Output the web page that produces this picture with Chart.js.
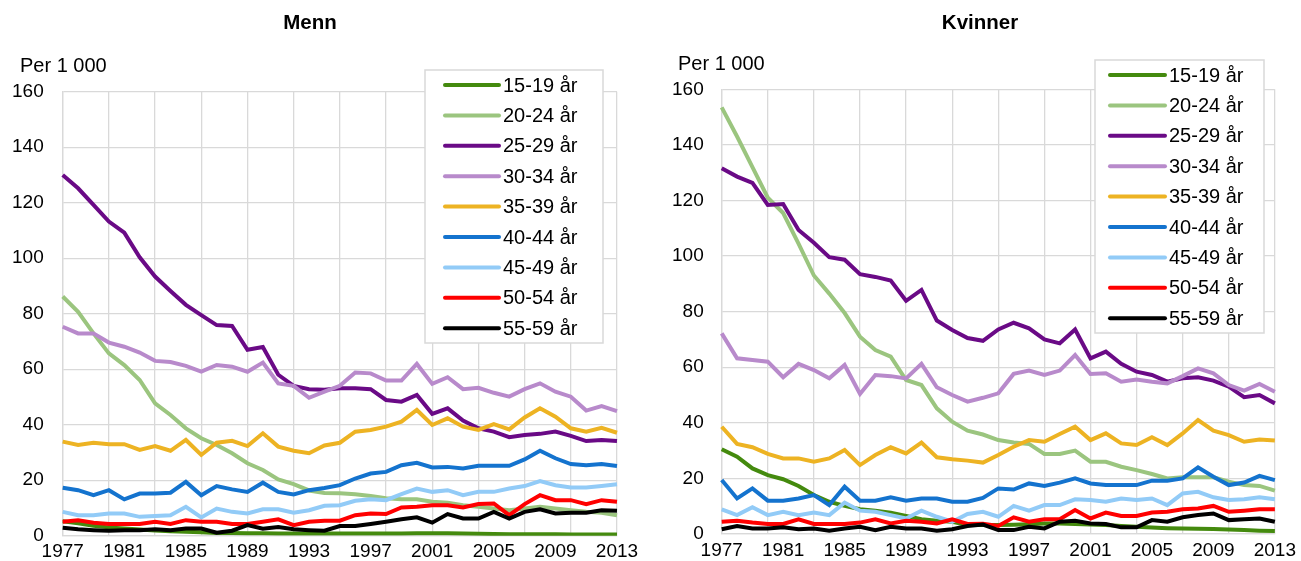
<!DOCTYPE html>
<html>
<head>
<meta charset="utf-8">
<script src="https://cdn.jsdelivr.net/npm/chart.js@4.4.1/dist/chart.umd.min.js"></script>
<style>
html,body{margin:0;padding:0;background:#fff;width:1301px;height:561px;overflow:hidden;}
#c1{position:absolute;left:0;top:0;}
#c2{position:absolute;left:650px;top:0;}
</style>
</head>
<body>
<canvas id="c1" width="650" height="561"></canvas>
<canvas id="c2" width="651" height="561"></canvas>
<script>
const years = [];
for (let y = 1977; y <= 2013; y++) years.push(String(y));
const seriesLabels = ['15-19 år','20-24 år','25-29 år','30-34 år','35-39 år','40-44 år','45-49 år','50-54 år','55-59 år'];
const seriesColors = ['#448A0E','#9BC57F','#6A0A86','#B88ACB','#EDB323','#1473CE','#92CBF7','#FF0000','#000000'];

// Menn
const m15 = [5.2,4.5,3.6,3.0,2.6,2.2,1.9,1.6,1.4,1.2,1.0,1.0,0.9,0.9,0.8,0.8,0.8,0.8,0.8,0.8,0.8,0.8,0.8,0.9,0.9,0.9,0.8,0.7,0.6,0.5,0.5,0.5,0.5,0.4,0.4,0.4,0.4];
const m20 = [86.2,80.7,72.9,65.7,61.5,56.1,47.7,43.5,38.7,35.1,32.7,29.7,26.1,23.7,20.3,18.6,16.3,15.4,15.3,14.9,14.3,13.5,13.1,13.1,12.2,11.9,11.0,10.4,9.8,9.2,9.8,10.4,9.8,9.2,8.6,8.3,7.4];
const m25 = [130,125.2,119.2,113.2,109.2,100.3,93.4,88.2,83.2,79.5,75.9,75.6,67,68,58,54,52.8,52.6,53.1,53.1,52.8,48.9,48.3,50.7,43.9,45.9,41.5,38.7,37.5,35.5,36.3,36.7,37.5,36,34.1,34.5,34.1];
const m30 = [75.3,72.9,72.9,69.6,68.1,66,63,62.6,61.2,59.1,61.5,60.9,59.1,62.4,54.9,54,49.7,51.9,54,58.8,58.5,55.9,55.9,61.9,54.7,57.1,52.8,53.3,51.5,50.1,52.8,54.9,51.9,50.1,45.1,46.7,44.9];
const m35 = [33.9,32.7,33.5,33,33,30.9,32.3,30.6,34.5,29.1,33.5,34.2,32.3,36.9,32.1,30.6,29.7,32.5,33.5,37.5,38.1,39.3,41.1,45.3,39.9,42.3,39.3,38.1,40.2,38.3,42.6,45.9,42.9,38.7,37.5,38.9,37.1];
const m40 = [17.3,16.4,14.6,16.4,13.1,15.2,15.2,15.5,19.4,14.6,17.9,16.7,15.8,19.1,15.8,14.9,16.4,17.2,18.2,20.6,22.4,23,25.4,26.3,24.6,24.8,24.2,25.2,25.2,25.2,27.5,30.6,27.9,25.8,25.4,25.8,25.1];
const m45 = [8.6,7.4,7.4,8,8,6.8,7.1,7.4,10.4,6.6,9.8,8.6,8,9.5,9.5,8.3,9.2,10.8,11,12.6,13.1,12.8,15,17,15.8,16.4,14.6,15.8,15.8,17,17.9,19.7,18.2,17.4,17.4,17.9,18.5];
const m50 = [5,5.6,4.7,4.2,4.2,4.2,5,4.2,5.6,5,5,4.2,4.2,5,5.9,3.8,5,5.4,5.4,7.4,8,7.8,10.2,10.4,11,11,10.2,11.4,11.6,7.4,11.4,14.6,12.8,12.8,11.4,12.8,12.2];
const m55 = [2.9,2.3,2,1.8,2,2,2.3,2,2.6,2.6,1.1,1.8,3.8,2.5,3.1,2.3,2,1.8,3.5,3.5,4.2,5,5.9,6.6,4.7,7.8,6.2,6.2,8.6,6.2,8.6,9.5,8,8.3,8.3,9.2,9];

// Kvinner
const w15 = [30.5,27.8,23.6,21.2,19.7,17.3,14,11.6,10.1,8.9,8.4,7.7,6.5,5.3,4.8,4.4,3.2,3.2,3.2,3.3,3.5,3.8,3.8,3.6,3.4,3.2,2.9,2.6,2.3,2.1,2.0,1.9,1.8,1.6,1.4,1.2,1.1];
const w20 = [153.5,143,132,121,115.5,104.5,93,86.5,79.5,71,66.2,63.8,55.4,53.6,45.2,40.4,37.2,35.8,33.8,32.9,32.4,28.8,28.8,30,26,26,24.2,23,21.6,20,20.4,20.4,20.4,18.8,17.6,17.3,15.6];
const w25 = [131.6,128.6,126.3,118.4,118.7,109.4,104.8,99.6,98.7,93.5,92.5,91.2,83.9,87.8,76.8,73.4,70.5,69.5,73.6,76,74,70,68.6,73.6,63.2,65.6,61.2,58.4,57.2,54.8,56,56.4,55.2,53,49.2,50,47];
const w30 = [72.2,63.2,62.6,62,56.4,61.2,59,56,60.8,50.4,57.2,56.8,56,61.2,52.8,50,47.6,49,50.6,57.6,58.8,57.2,58.8,64.4,57.6,57.8,54.8,55.6,54.8,54.2,56.8,59.6,57.8,53.6,51.6,54,51.2];
const w35 = [38.6,32.4,31.2,28.8,27.2,27.2,26,27.2,30.2,24.8,28.4,31.2,29,32.9,27.6,26.9,26.4,25.7,28.4,31.4,33.8,33.2,36,38.6,33.8,36.2,32.6,32,34.8,32,36.2,41,37.2,35.6,33.2,34,33.6];
const w40 = [19.4,12.8,16.4,12,12,12.8,14,10.4,17,12,12,13.2,12,12.8,12.8,11.6,11.6,13,16.4,16,18.2,17.3,18.5,20,18.2,17.6,17.6,17.6,19.2,19.2,20,24,20.6,17.6,18.5,20.9,19.4];
const w45 = [8.9,6.8,9.6,6.8,8,6.8,7.7,6.8,11.3,8.4,8,6.8,5.6,8.4,6.2,4.4,7.2,8,6.2,10.1,8.4,10.4,10.4,12.5,12.2,11.6,12.8,12.2,12.8,10.4,14.6,15.2,13.2,12.2,12.5,13.2,12.5];
const w50 = [4.4,4.8,4.1,3.6,3.6,5.3,3.6,3.6,3.6,4.1,5.3,3.8,4.8,4.4,3.8,5.3,3.6,3.7,2.9,6,4.4,5.3,5.3,8.6,5.6,7.7,6.5,6.5,7.7,8,8.9,9.2,10.1,8,8.4,8.9,8.9];
const w55 = [1.7,2.9,2,2,2.4,1.7,2,1.2,2,2.6,1.4,2.6,2,2,1.2,1.7,2.9,3.4,1.4,1.4,2.6,2,4.4,4.8,3.8,3.6,2.4,2.4,5,4.4,6,6.8,7.4,5,5.3,5.6,4.4];

const yTicks = [0,20,40,60,80,100,120,140,160];
const titleMen = 'Menn';
const titleWomen = 'Kvinner';
const unitLabel = 'Per 1 000';

const FONT = '"Liberation Sans", Arial, sans-serif';
const GRID = '#d9d9d9';

function makeDatasets(arrs) {
  return arrs.map((d, i) => ({
    label: seriesLabels[i],
    data: d,
    borderColor: seriesColors[i],
    backgroundColor: seriesColors[i],
    borderWidth: 4,
    pointRadius: 0,
    tension: 0,
    fill: false,
    order: arrs.length - 1 - i,
    borderCapStyle: 'butt',
    borderJoinStyle: 'miter'
  }));
}

function makeChart(id, arrs, cfg) {
  const overlay = {
    id: 'overlay',
    afterDraw(chart) {
      const ctx = chart.ctx;
      ctx.save();
      ctx.fillStyle = '#000';
      ctx.font = 'bold 20.5px ' + FONT;
      ctx.textAlign = 'center';
      ctx.textBaseline = 'middle';
      ctx.fillText(cfg.title, cfg.titleX, 23);
      ctx.font = '20px ' + FONT;
      ctx.textAlign = 'left';
      ctx.fillText(unitLabel, cfg.unitX, cfg.unitY);
      const L = cfg.legend;
      ctx.fillStyle = '#fff';
      ctx.fillRect(L.x, L.y, L.w, L.h);
      ctx.strokeStyle = GRID;
      ctx.lineWidth = 1.5;
      ctx.strokeRect(L.x, L.y, L.w, L.h);
      chart.data.datasets.forEach((ds, i) => {
        const yy = L.firstY + i * L.step;
        ctx.strokeStyle = ds.borderColor;
        ctx.lineWidth = 4;
        ctx.lineCap = 'round';
        ctx.beginPath();
        ctx.moveTo(L.lineX1, yy);
        ctx.lineTo(L.lineX2, yy);
        ctx.stroke();
        ctx.fillStyle = '#000';
        ctx.font = '20px ' + FONT;
        ctx.textAlign = 'left';
        ctx.textBaseline = 'middle';
        ctx.fillText(ds.label, L.textX, yy + 1);
      });
      ctx.restore();
    }
  };
  return new Chart(document.getElementById(id), {
    type: 'line',
    data: { labels: years, datasets: makeDatasets(arrs) },
    options: {
      responsive: false,
      animation: false,
      devicePixelRatio: 1,
      layout: { padding: { left: 0, right: cfg.padRight, top: cfg.padTop, bottom: 0 } },
      plugins: { legend: { display: false }, title: { display: false }, tooltip: { enabled: false } },
      scales: {
        x: {
          type: 'category',
          offset: false,
          grid: {
            drawTicks: false,
            lineWidth: 1.3,
            color: (c) => (c.index % 3 === 0 ? GRID : 'rgba(0,0,0,0)')
          },
          border: { display: true, color: GRID, width: 1.3 },
          ticks: {
            autoSkip: false,
            maxRotation: 0,
            minRotation: 0,
            padding: 5,
            color: '#000',
            font: { family: FONT, size: 19 },
            callback: function (v, i) { return i % 4 === 0 ? years[i] : ''; }
          },
          afterFit: (s) => { s.height = cfg.xHeight; }
        },
        y: {
          min: 0, max: 160,
          afterBuildTicks: (s) => { s.ticks = yTicks.map(v => ({ value: v })); },
          grid: { drawTicks: false, color: GRID, lineWidth: 1.3 },
          border: { display: true, color: GRID, width: 1.3 },
          ticks: {
            padding: cfg.yPad,
            color: '#000',
            font: { family: FONT, size: 19 }
          },
          afterFit: (s) => { s.width = cfg.yWidth; s.paddingTop = 0; s.paddingBottom = 0; }
        }
      }
    },
    plugins: [overlay]
  });
}

makeChart('c1', [m15, m20, m25, m30, m35, m40, m45, m50, m55], {
  title: titleMen, titleX: 310, unitX: 20, unitY: 66,
  padRight: 33, padTop: 91.7, xHeight: 25.3, yWidth: 62.7, yPad: 19,
  legend: { x: 425, y: 70, w: 178, h: 273, firstY: 85, step: 30.4, lineX1: 445, lineX2: 499, textX: 503 }
});
makeChart('c2', [w15, w20, w25, w30, w35, w40, w45, w50, w55], {
  title: titleWomen, titleX: 330, unitX: 28, unitY: 64.5,
  padRight: 26, padTop: 89.3, xHeight: 27, yWidth: 71.7, yPad: 18,
  legend: { x: 445, y: 60, w: 169, h: 273, firstY: 75, step: 30.4, lineX1: 460, lineX2: 515, textX: 519 }
});
</script>
</body>
</html>
